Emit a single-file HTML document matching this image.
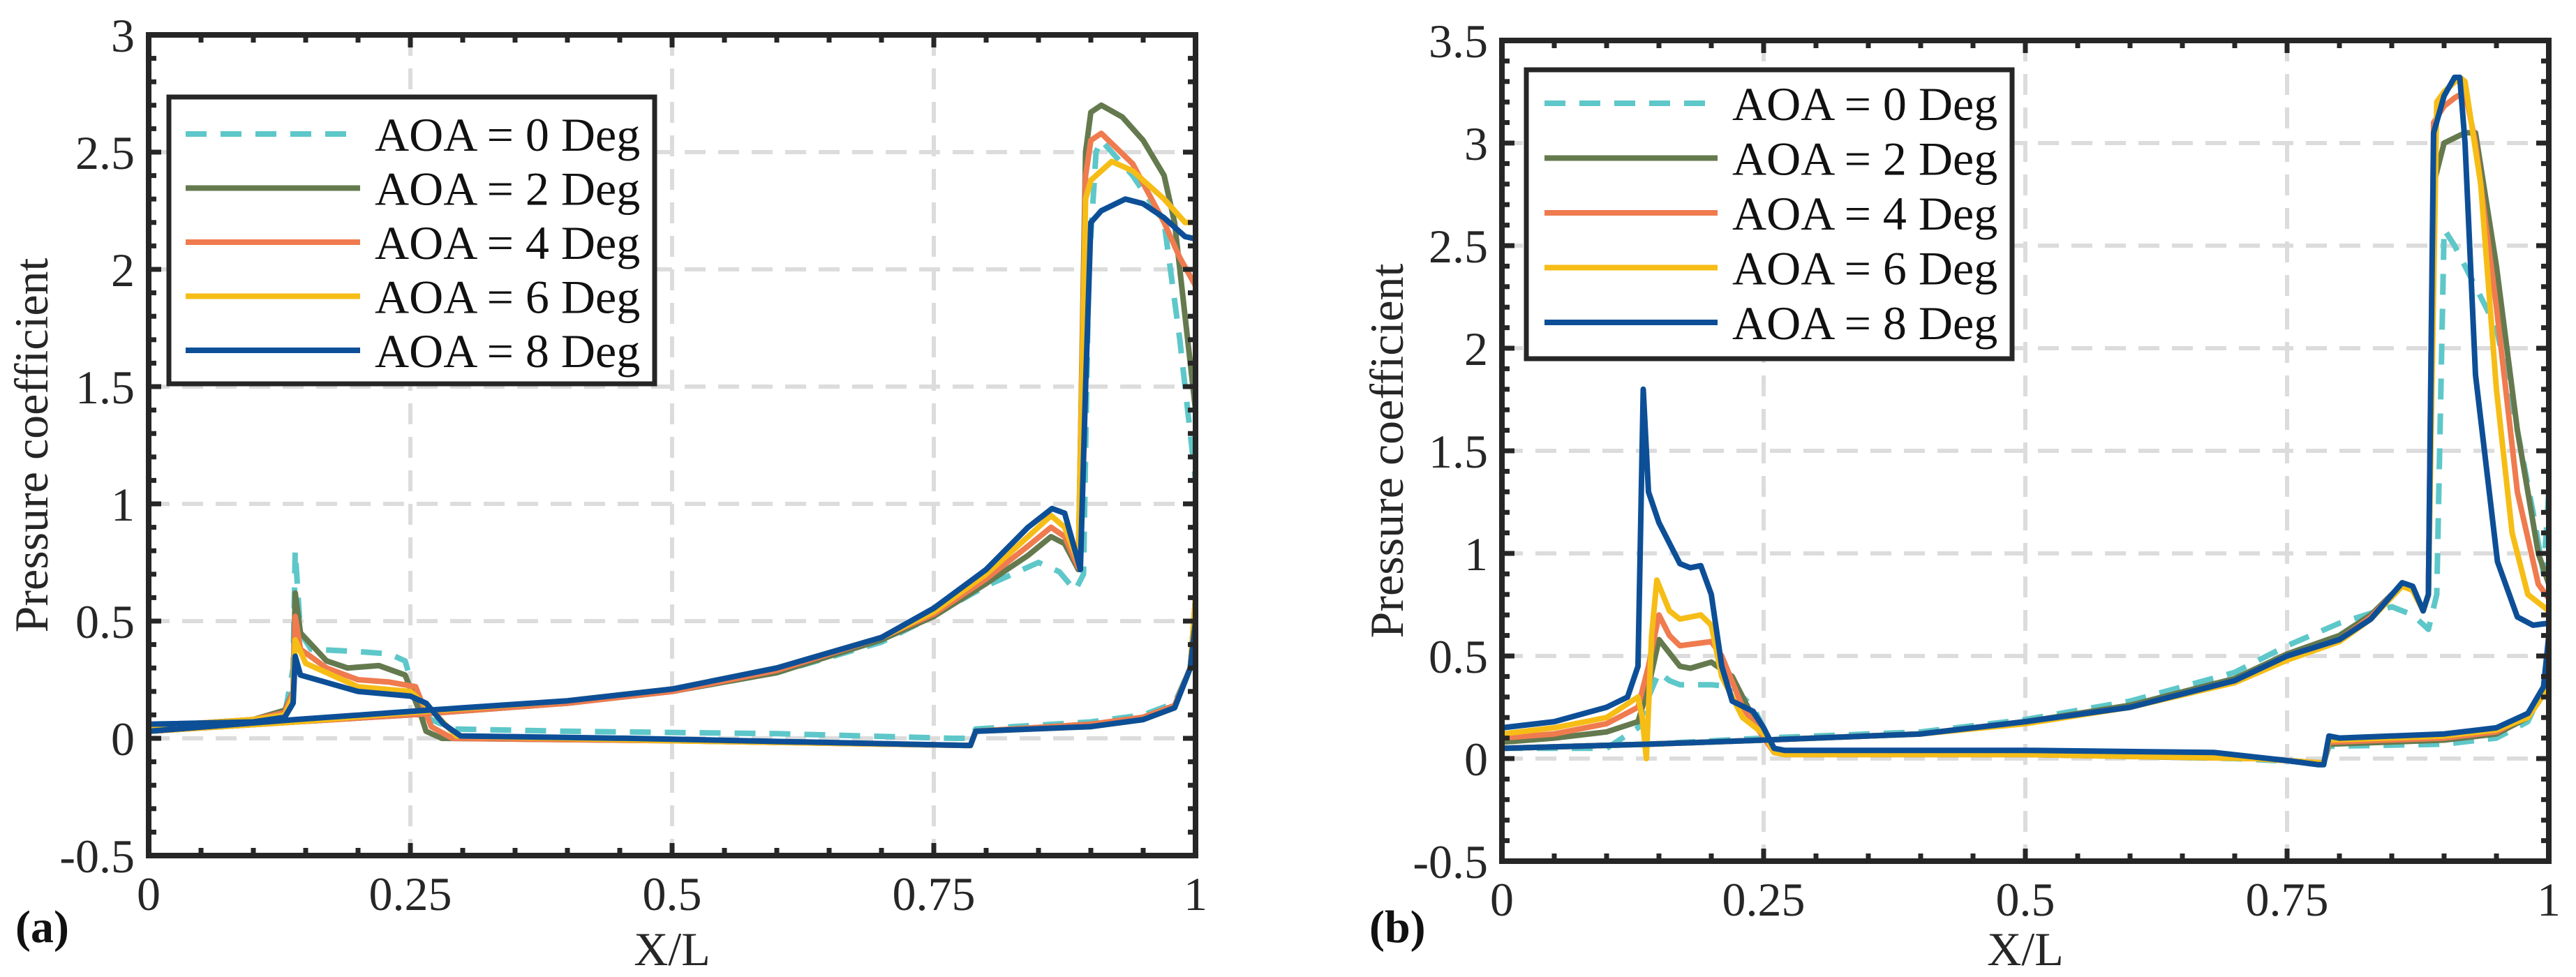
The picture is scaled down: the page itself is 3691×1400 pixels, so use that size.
<!DOCTYPE html>
<html><head><meta charset="utf-8"><style>
html,body{margin:0;padding:0;background:#fff;}
svg{display:block;font-family:"Liberation Serif",serif;}
</style></head><body>
<svg id="fig" width="3691" height="1400" viewBox="0 0 3691 1400" xmlns="http://www.w3.org/2000/svg"></svg>
<script>
// ---- Panel (a) data: [x, Cp] pairs, branch U (shock-bump side) and branch L ----
const a0U=[[0,0.05],[0.1,0.07],[0.13,0.1],[0.138,0.3],[0.14,0.8],[0.145,0.45],[0.155,0.38],[0.2,0.37],[0.23,0.36],[0.245,0.33],[0.26,0.1],[0.29,0.04],[0.4,0.03],[0.6,0.02],[0.77,0.0],[0.785,0.0],[0.79,0.04],[0.9,0.07],[0.95,0.1],[0.98,0.15],[0.995,0.3],[1,0.6]];
const a0L=[[0,0.03],[0.14,0.07],[0.25,0.1],[0.4,0.15],[0.5,0.2],[0.6,0.28],[0.7,0.41],[0.74,0.5],[0.8,0.65],[0.85,0.75],[0.87,0.71],[0.885,0.63],[0.893,0.7],[0.898,2.0],[0.905,2.5],[0.91,2.55],[0.94,2.4],[0.97,2.2],[0.985,1.7],[0.995,1.3],[1,1.1]];
const a2U=[[0,0.05],[0.1,0.08],[0.13,0.12],[0.138,0.2],[0.14,0.62],[0.145,0.45],[0.17,0.33],[0.19,0.3],[0.22,0.31],[0.245,0.27],[0.26,0.1],[0.265,0.03],[0.28,0.0],[0.5,-0.01],[0.78,-0.03],[0.785,-0.03],[0.79,0.03],[0.9,0.06],[0.95,0.09],[0.98,0.14],[0.995,0.3],[1,0.6],[1,2.5]];
const a2L=[[0,0.03],[0.14,0.07],[0.25,0.1],[0.4,0.15],[0.5,0.2],[0.6,0.28],[0.7,0.42],[0.75,0.52],[0.8,0.66],[0.84,0.78],[0.862,0.86],[0.875,0.83],[0.888,0.72],[0.895,2.5],[0.9,2.67],[0.91,2.7],[0.93,2.65],[0.95,2.55],[0.97,2.4],[0.98,2.2],[0.99,1.8],[1,1.4]];
const a4U=[[0,0.05],[0.1,0.08],[0.13,0.11],[0.138,0.2],[0.14,0.52],[0.145,0.38],[0.17,0.3],[0.2,0.25],[0.23,0.24],[0.255,0.22],[0.27,0.05],[0.29,0.0],[0.5,-0.01],[0.78,-0.03],[0.785,-0.03],[0.79,0.03],[0.9,0.06],[0.95,0.09],[0.98,0.14],[0.995,0.3],[1,0.6],[1,2.55]];
const a4L=[[0,0.03],[0.14,0.07],[0.25,0.1],[0.4,0.15],[0.5,0.2],[0.6,0.29],[0.7,0.43],[0.75,0.53],[0.8,0.68],[0.84,0.82],[0.862,0.9],[0.875,0.86],[0.888,0.73],[0.895,2.4],[0.9,2.55],[0.91,2.58],[0.94,2.45],[0.97,2.2],[0.985,2.05],[1,1.93]];
const a6U=[[0,0.05],[0.1,0.08],[0.13,0.1],[0.138,0.18],[0.14,0.42],[0.15,0.32],[0.2,0.22],[0.25,0.2],[0.27,0.12],[0.294,0.01],[0.5,-0.01],[0.78,-0.03],[0.785,-0.03],[0.79,0.03],[0.9,0.05],[0.95,0.08],[0.98,0.13],[0.995,0.3],[1,0.6],[1,2.5]];
const a6L=[[0,0.03],[0.14,0.07],[0.25,0.11],[0.4,0.16],[0.5,0.21],[0.6,0.3],[0.7,0.43],[0.75,0.54],[0.8,0.7],[0.84,0.86],[0.862,0.95],[0.875,0.9],[0.888,0.75],[0.895,2.3],[0.9,2.38],[0.92,2.46],[0.94,2.42],[0.97,2.3],[0.99,2.2],[1,2.2]];
const a8U=[[0,0.06],[0.1,0.07],[0.13,0.09],[0.138,0.15],[0.14,0.35],[0.145,0.27],[0.2,0.2],[0.25,0.18],[0.265,0.15],[0.282,0.06],[0.298,0.01],[0.46,0.0],[0.78,-0.03],[0.785,-0.03],[0.79,0.03],[0.9,0.05],[0.95,0.08],[0.98,0.13],[0.995,0.3],[1,0.5],[1,2.45]];
const a8L=[[0,0.03],[0.14,0.08],[0.25,0.115],[0.3,0.13],[0.4,0.16],[0.5,0.21],[0.6,0.3],[0.7,0.43],[0.75,0.555],[0.8,0.72],[0.84,0.9],[0.863,0.98],[0.875,0.96],[0.89,0.72],[0.895,1.5],[0.9,2.2],[0.91,2.25],[0.933,2.3],[0.95,2.28],[0.97,2.22],[0.99,2.14],[1,2.13]];
// ---- Panel (b) data ----
const b0U=[[0,0.05],[0.1,0.05],[0.13,0.15],[0.14,0.3],[0.15,0.42],[0.16,0.38],[0.17,0.36],[0.2,0.36],[0.22,0.35],[0.24,0.25],[0.26,0.05],[0.27,0.02],[0.5,0.02],[0.7,0.0],[0.78,-0.02],[0.785,-0.02],[0.79,0.06],[0.9,0.07],[0.95,0.1],[0.98,0.18],[1,0.4]];
const b0L=[[0,0.05],[0.14,0.07],[0.25,0.1],[0.4,0.13],[0.5,0.19],[0.6,0.28],[0.7,0.42],[0.75,0.55],[0.8,0.66],[0.85,0.74],[0.87,0.7],[0.885,0.63],[0.893,0.8],[0.9,2.58],[0.91,2.5],[0.93,2.3],[0.95,2.1],[0.97,1.6],[0.985,1.2],[0.995,0.9],[1,1.3]];
const b2U=[[0,0.08],[0.05,0.1],[0.1,0.13],[0.13,0.18],[0.14,0.35],[0.15,0.58],[0.17,0.45],[0.18,0.44],[0.2,0.47],[0.22,0.4],[0.24,0.2],[0.26,0.03],[0.27,0.02],[0.5,0.02],[0.72,0.0],[0.78,-0.02],[0.785,-0.02],[0.79,0.07],[0.9,0.09],[0.95,0.12],[0.98,0.2],[1,0.35],[1,2.4]];
const b2L=[[0,0.05],[0.14,0.07],[0.25,0.09],[0.4,0.12],[0.5,0.18],[0.6,0.26],[0.7,0.39],[0.75,0.51],[0.8,0.6],[0.83,0.7],[0.86,0.85],[0.87,0.83],[0.88,0.72],[0.885,0.8],[0.89,2.8],[0.9,3.0],[0.92,3.05],[0.93,3.05],[0.95,2.4],[0.97,1.6],[0.99,1.0],[1,0.85]];
const b4U=[[0,0.1],[0.05,0.12],[0.1,0.17],[0.13,0.25],[0.14,0.45],[0.15,0.7],[0.16,0.6],[0.17,0.55],[0.2,0.57],[0.21,0.5],[0.23,0.25],[0.26,0.03],[0.27,0.02],[0.5,0.02],[0.72,0.0],[0.78,-0.02],[0.785,-0.02],[0.79,0.08],[0.9,0.1],[0.95,0.13],[0.98,0.21],[1,0.35],[1,2.4]];
const b4L=[[0,0.05],[0.14,0.07],[0.25,0.09],[0.4,0.12],[0.5,0.18],[0.6,0.25],[0.7,0.38],[0.75,0.5],[0.8,0.58],[0.83,0.69],[0.86,0.85],[0.87,0.83],[0.88,0.72],[0.885,0.8],[0.89,3.1],[0.9,3.18],[0.91,3.22],[0.92,3.25],[0.93,3.0],[0.95,2.2],[0.97,1.3],[0.99,0.85],[1,0.78]];
const b6U=[[0,0.12],[0.05,0.15],[0.1,0.2],[0.13,0.3],[0.134,0.2],[0.138,0.0],[0.143,0.6],[0.148,0.87],[0.16,0.72],[0.17,0.68],[0.19,0.7],[0.2,0.65],[0.21,0.4],[0.23,0.2],[0.25,0.12],[0.26,0.03],[0.27,0.02],[0.5,0.02],[0.72,0.0],[0.78,-0.02],[0.785,-0.02],[0.79,0.09],[0.9,0.11],[0.95,0.14],[0.98,0.2],[1,0.35],[1,2.4]];
const b6L=[[0,0.05],[0.14,0.07],[0.25,0.09],[0.4,0.12],[0.5,0.17],[0.6,0.25],[0.7,0.37],[0.75,0.48],[0.8,0.57],[0.83,0.68],[0.86,0.84],[0.87,0.82],[0.88,0.72],[0.885,0.8],[0.893,3.2],[0.9,3.25],[0.915,3.32],[0.92,3.3],[0.935,2.8],[0.95,1.8],[0.965,1.1],[0.98,0.8],[1,0.72]];
const b8U=[[0,0.15],[0.05,0.18],[0.1,0.25],[0.12,0.3],[0.13,0.45],[0.135,1.8],[0.14,1.3],[0.15,1.15],[0.16,1.05],[0.17,0.95],[0.18,0.93],[0.19,0.94],[0.2,0.8],[0.21,0.45],[0.22,0.28],[0.24,0.23],[0.25,0.15],[0.26,0.05],[0.27,0.04],[0.5,0.04],[0.68,0.03],[0.75,-0.01],[0.78,-0.03],[0.785,-0.03],[0.79,0.11],[0.8,0.1],[0.9,0.12],[0.95,0.15],[0.98,0.22],[0.995,0.35],[1,0.6],[1,2.44]];
const b8L=[[0,0.05],[0.14,0.07],[0.25,0.09],[0.4,0.12],[0.5,0.18],[0.6,0.25],[0.7,0.38],[0.75,0.5],[0.8,0.58],[0.83,0.68],[0.86,0.857],[0.87,0.84],[0.88,0.72],[0.885,0.8],[0.89,3.05],[0.9,3.23],[0.91,3.32],[0.915,3.32],[0.92,3.0],[0.93,1.87],[0.951,0.96],[0.97,0.69],[0.985,0.65],[1,0.66]];
// ---- Axis ticks / legend ----
const xTicks=[0,0.25,0.5,0.75,1];
const xTickLabels=["0","0.25","0.5","0.75","1"];
const aYTicks=[-0.5,0,0.5,1,1.5,2,2.5,3];
const aYTickLabels=["-0.5","0","0.5","1","1.5","2","2.5","3"];
const bYTicks=[-0.5,0,0.5,1,1.5,2,2.5,3,3.5];
const bYTickLabels=["-0.5","0","0.5","1","1.5","2","2.5","3","3.5"];
const legendLabels=["AOA = 0 Deg","AOA = 2 Deg","AOA = 4 Deg","AOA = 6 Deg","AOA = 8 Deg"];

const NS="http://www.w3.org/2000/svg";
const svg=document.getElementById('fig');
const colors=["#5ec7c9","#647a4e","#ef7b4f","#f6bd16","#0d4f97"];
function mk(tag,attrs,parent){const e=document.createElementNS(NS,tag);for(const k in attrs)e.setAttribute(k,attrs[k]);(parent||svg).appendChild(e);return e;}

function drawPanel(P){
  const g=mk('g',{});
  
  
  const sx=v=>P.x0+(v-0)/(1-0)*(P.x1-P.x0);
  const sy=v=>P.y1-(v-P.ymin)/(P.ymax-P.ymin)*(P.y1-P.y0);
  xTicks.forEach(t=>{if(t>0&&t<1){const l=mk('line',{x1:sx(t),x2:sx(t),y1:P.y0,y2:P.y1,stroke:'#dcdcdc','stroke-width':6,'stroke-dasharray':'30 18'},g);
    }});
  P.yTicks.forEach(t=>{if(t>P.ymin&&t<P.ymax){const l=mk('line',{x1:P.x0,x2:P.x1,y1:sy(t),y2:sy(t),stroke:'#dcdcdc','stroke-width':6,'stroke-dasharray':'30 18'},g);
    }});
  P.series.forEach((s,i)=>{
    const pts=s[0].concat(s[1].slice().reverse());
    const d=pts.map((p,j)=>(j?'L':'M')+sx(p[0]).toFixed(1)+' '+sy(p[1]).toFixed(1)).join(' ');
    const path=mk('path',{d:d,fill:'none',stroke:colors[i],'stroke-width':8,'stroke-linejoin':'round','stroke-linecap':'butt'},g);
    if(i===0)path.setAttribute('stroke-dasharray','30 20');
    
    
  });
  for(let k=0;k<=20;k++){const v=k*0.05;const major=(k%5===0);const L=major?18:11;
    mk('line',{x1:sx(v),x2:sx(v),y1:P.y1,y2:P.y1-L,stroke:'#262626','stroke-width':7},g);
    mk('line',{x1:sx(v),x2:sx(v),y1:P.y0,y2:P.y0+L,stroke:'#262626','stroke-width':7},g);}
  const ny=Math.round((P.ymax-P.ymin)/0.1);
  for(let k=0;k<=ny;k++){const v=P.ymin+k*0.1;const major=(k%5===0);const L=major?18:11;
    mk('line',{x1:P.x0,x2:P.x0+L,y1:sy(v),y2:sy(v),stroke:'#262626','stroke-width':7},g);
    mk('line',{x1:P.x1,x2:P.x1-L,y1:sy(v),y2:sy(v),stroke:'#262626','stroke-width':7},g);}
  const fr=mk('rect',{x:P.x0,y:P.y0,width:P.x1-P.x0,height:P.y1-P.y0,fill:'none',stroke:'#262626','stroke-width':8},g);
  
  xTicks.forEach((t,i)=>{const tx=mk('text',{x:sx(t),y:P.y1+78,'font-size':68,'text-anchor':'middle',fill:'#262626'},g);tx.textContent=xTickLabels[i];
    });
  P.yTicks.forEach((t,i)=>{const tx=mk('text',{x:P.x0-20,y:sy(t)+24,'font-size':68,'text-anchor':'end',fill:'#262626'},g);tx.textContent=P.yLabels[i];
    });
  const xt=mk('text',{x:(P.x0+P.x1)/2,y:1383,'font-size':68,'text-anchor':'middle',fill:'#262626'},g);xt.textContent='X/L';
  
  const cy=(P.y0+P.y1)/2;
  const yt=mk('text',{x:P.ytx,y:cy,'font-size':68,'text-anchor':'middle',fill:'#262626',transform:'rotate(-90 '+P.ytx+' '+cy+')'},g);yt.textContent='Pressure coefficient';
  
  const pl=mk('text',{x:P.plx,y:1350,'font-size':66,'font-weight':'bold',fill:'#111'},g);pl.textContent=P.panelLabel;
  
  const lg=mk('g',{},g);
  
  mk('rect',{x:P.lg.x,y:P.lg.y,width:P.lg.w,height:P.lg.h,fill:'#fff',stroke:'#262626','stroke-width':7},lg);
  legendLabels.forEach((lab,i)=>{const yy=P.lg.ey0+i*P.lg.dy;
    const ln=mk('line',{x1:P.lg.lx0,x2:P.lg.lx1,y1:yy,y2:yy,stroke:colors[i],'stroke-width':8},lg);
    if(i===0)ln.setAttribute('stroke-dasharray','30 20');
    
    const tx=mk('text',{x:P.lg.tx,y:yy+24,'font-size':68,fill:'#111'},lg);tx.textContent=lab;
    });
}

drawPanel({name:'panel-a',x0:213,x1:1713,y0:50,y1:1226,ymin:-0.5,ymax:3,yTicks:aYTicks,yLabels:aYTickLabels,
  series:[[a0U,a0L],[a2U,a2L],[a4U,a4L],[a6U,a6L],[a8U,a8L]],ytx:68,plx:22,panelLabel:'(a)',
  lg:{x:242,y:139,w:696,h:411,ey0:192,dy:77.5,lx0:266,lx1:516,tx:537}});
drawPanel({name:'panel-b',x0:2152,x1:3652,y0:58,y1:1234,ymin:-0.5,ymax:3.5,yTicks:bYTicks,yLabels:bYTickLabels,
  series:[[b0U,b0L],[b2U,b2L],[b4U,b4L],[b6U,b6L],[b8U,b8L]],ytx:2010,plx:1962,panelLabel:'(b)',
  lg:{x:2187,y:100,w:696,h:414,ey0:148,dy:78.5,lx0:2213,lx1:2461,tx:2482}});
</script>
</body></html>
